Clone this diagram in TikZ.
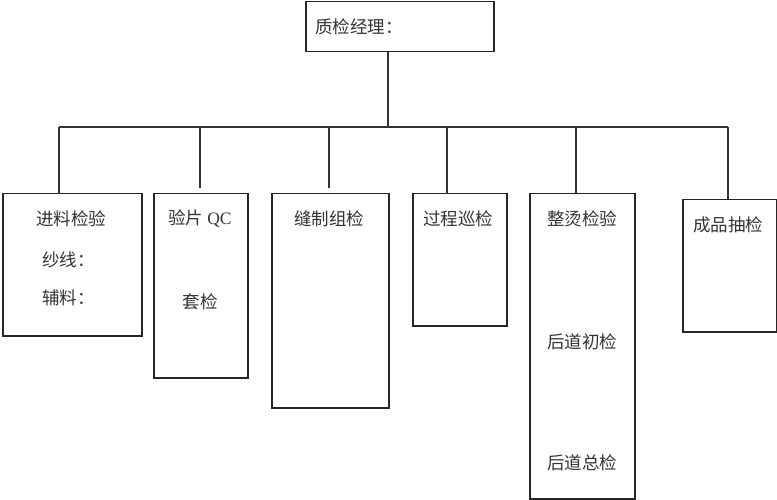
\documentclass[tikz,border=0pt]{standalone}
\usepackage{fontspec}
\setmainfont{Noto Sans CJK SC}
\newfontfamily\latinfont{Liberation Serif}
\begin{document}
\begin{tikzpicture}[x=1pt,y=-1pt,
  box/.style={draw=black!85, line width=1.5pt, inner sep=0pt, anchor=north west},
  lbl/.style={font=\fontsize{17.5}{20}\selectfont, text=black!80, inner sep=0pt},
  conn/.style={draw=black!80, line width=1.2pt}]
\useasboundingbox (0,0) rectangle (777,500);
% manager
\node[box, minimum width=188pt, minimum height=50pt] (m) at (305,0.8) {};
\node[lbl, anchor=west] (mt) at (315,27) {质检经理：};
% boxes
\node[box, minimum width=139pt, minimum height=142pt] (b1) at (2,193) {};
\node[box, minimum width=94pt, minimum height=184pt] (b2) at (153,193) {};
\node[box, minimum width=117pt, minimum height=214pt] (b3) at (271,193) {};
\node[box, minimum width=94pt, minimum height=132pt] (b4) at (412,193) {};
\node[box, minimum width=105pt, minimum height=305pt] (b5) at (529,193) {};
\node[box, minimum width=94pt, minimum height=132pt] (b6) at (682,199) {};
% texts
\node[lbl] (t1a) at (71,219) {进料检验};
\node[lbl, anchor=west] (t1b) at (42,260) {纱线：};
\node[lbl, anchor=west] (t1c) at (42,298) {辅料：};
\node[lbl] (t2a) at (200,219) {验片 {\latinfont QC}};
\node[lbl] (t2b) at (200,302) {套检};
\node[lbl] (t3a) at (329,219) {缝制组检};
\node[lbl] (t4a) at (458,219) {过程巡检};
\node[lbl] (t5a) at (582,219) {整烫检验};
\node[lbl] (t5b) at (582,342) {后道初检};
\node[lbl] (t5c) at (582,463) {后道总检};
\node[lbl] (t6a) at (728,225) {成品抽检};
% bus
\coordinate (busL) at (59,127);
\coordinate (busR) at (728,127);
\coordinate (mb) at (388,127);
\coordinate (v1) at (59,127);
\coordinate (v2) at (200,127);
\coordinate (v3) at (329,127);
\coordinate (v4) at (447,127);
\coordinate (v5) at (576,127);
\coordinate (v6) at (728,127);
\draw[conn] (m.south -| mb) -- (mb);
\draw[conn] (busL) -- (busR);
\draw[conn] (v1) -- (v1 |- b1.north);
\draw[conn, shorten >=5pt] (v2) -- (v2 |- b2.north);
\draw[conn, shorten >=5pt] (v3) -- (v3 |- b3.north);
\draw[conn] (v4) -- (v4 |- b4.north);
\draw[conn] (v5) -- (v5 |- b5.north);
\draw[conn] (v6) -- (v6 |- b6.north);
\end{tikzpicture}
\end{document}
